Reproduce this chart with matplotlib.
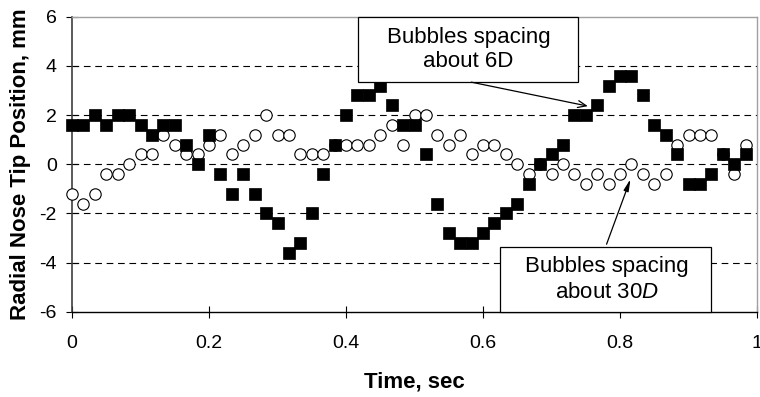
import numpy as np
import matplotlib
matplotlib.use("Agg")
import matplotlib.pyplot as plt
from matplotlib.patches import Rectangle

plt.rcParams['font.family'] = ['Liberation Sans', 'DejaVu Sans']
plt.rcParams['mathtext.fontset'] = 'custom'
plt.rcParams['mathtext.it'] = 'Liberation Sans:italic'
plt.rcParams['mathtext.rm'] = 'Liberation Sans'
plt.rcParams['lines.scale_dashes'] = False

# Sample index (time = index / 60 s)
sample_index = list(range(60))
time_s = [i / 60 for i in sample_index]

# Bubbles spacing about 6D (filled squares), mm
tip_6d = [1.6, 1.6, 2.0, 1.6, 2.0, 2.0, 1.6, 1.2, 1.6, 1.6,
          0.8, 0.0, 1.2, -0.4, -1.2, -0.4, -1.2, -2.0, -2.4, -3.6,
          -3.2, -2.0, -0.4, 0.8, 2.0, 2.8, 2.8, 3.2, 2.4, 1.6,
          1.6, 0.4, -1.6, -2.8, -3.2, -3.2, -2.8, -2.4, -2.0, -1.6,
          -0.8, 0.0, 0.4, 0.8, 2.0, 2.0, 2.4, 3.2, 3.6, 3.6,
          2.8, 1.6, 1.2, 0.4, -0.8, -0.8, -0.4, 0.4, 0.0, 0.4]

# Bubbles spacing about 30D (open circles), mm
tip_30d = [-1.2, -1.6, -1.2, -0.4, -0.4, 0.0, 0.4, 0.4, 1.2, 0.8,
           0.4, 0.4, 0.8, 1.2, 0.4, 0.8, 1.2, 2.0, 1.2, 1.2,
           0.4, 0.4, 0.4, 0.8, 0.8, 0.8, 0.8, 1.2, 1.6, 0.8,
           2.0, 2.0, 1.2, 0.8, 1.2, 0.4, 0.8, 0.8, 0.4, 0.0,
           -0.4, 0.0, -0.4, 0.0, -0.4, -0.8, -0.4, -0.8, -0.4, 0.0,
           -0.4, -0.8, -0.4, 0.8, 1.2, 1.2, 1.2, 0.4, -0.4, 0.8]

x_ticks = [0, 0.2, 0.4, 0.6, 0.8, 1]
x_tick_labels = ['0', '0.2', '0.4', '0.6', '0.8', '1']
y_ticks = [-6, -4, -2, 0, 2, 4, 6]
y_tick_labels = ['-6', '-4', '-2', '0', '2', '4', '6']

fig = plt.figure(figsize=(7.6, 3.97), dpi=100)
ax = fig.add_axes([72/760, 1 - 311.7/397, (757 - 72)/760, (311.7 - 16.7)/397])

for yv in [-4, -2, 0, 2, 4]:
    ax.axhline(yv, color='black', lw=0.8, linestyle=(0, (4.8, 3.4)), zorder=1)

ax.plot(time_s, tip_30d, linestyle='none', marker='o', markersize=8.2,
        markerfacecolor='white', markeredgecolor='black', markeredgewidth=0.8,
        zorder=3, clip_on=False)
ax.plot(time_s, tip_6d, linestyle='none', marker='s', markersize=8.0,
        markerfacecolor='black', markeredgecolor='black', markeredgewidth=0.5,
        zorder=4, clip_on=False)

ax.set_xlim(0, 1)
ax.set_ylim(-6, 6)
ax.set_xticks(x_ticks)
ax.set_xticklabels(x_tick_labels)
ax.set_yticks(y_ticks)
ax.set_yticklabels(y_tick_labels)
ax.tick_params(axis='both', direction='inout', length=8, width=0.8,
               labelsize=14, color='black')
ax.tick_params(axis='x', pad=13)
ax.tick_params(axis='y', pad=7)

for s in ['top', 'right']:
    ax.spines[s].set_color('#a0a0a0')
    ax.spines[s].set_linewidth(1.0)
ax.spines['left'].set_color('#404040')
ax.spines['left'].set_linewidth(1.2)
ax.spines['bottom'].set_color('black')
ax.spines['bottom'].set_linewidth(1.0)

ax.set_xlabel('Time, sec', fontsize=16, fontweight='bold', labelpad=14)
ax.set_ylabel('Radial Nose Tip Position, mm', fontsize=16, fontweight='bold', labelpad=6)

# Annotation 1
ax.add_patch(Rectangle((0.418, 3.36), 0.739 - 0.418, 6 - 3.36, facecolor='white',
                       edgecolor='black', lw=0.9, zorder=6, clip_on=False))
ax.text(0.579, 4.66, 'Bubbles spacing\nabout 6D', ha='center', va='center',
        fontsize=16, linespacing=1.15, zorder=7)
ax.annotate('', xy=(0.757, 2.34), xytext=(0.579, 3.36),
            arrowprops=dict(arrowstyle='->,head_length=0.6,head_width=0.25',
                            color='black', lw=0.9), zorder=7)

# Annotation 2
ax.add_patch(Rectangle((0.625, -6), 0.9325 - 0.625, -3.36 + 6, facecolor='white',
                       edgecolor='black', lw=0.9, zorder=6, clip_on=False))
ax.text(0.7805, -4.68, 'Bubbles spacing\nabout 30$\\it{D}$', ha='center', va='center',
        fontsize=16, linespacing=1.3, zorder=7)
ax.annotate('', xy=(0.8167, -0.5), xytext=(0.779, -3.36),
            arrowprops=dict(arrowstyle='-|>,head_length=0.7,head_width=0.15',
                            color='black', lw=0.9), zorder=7)

fig.savefig('out.png', dpi=100)
